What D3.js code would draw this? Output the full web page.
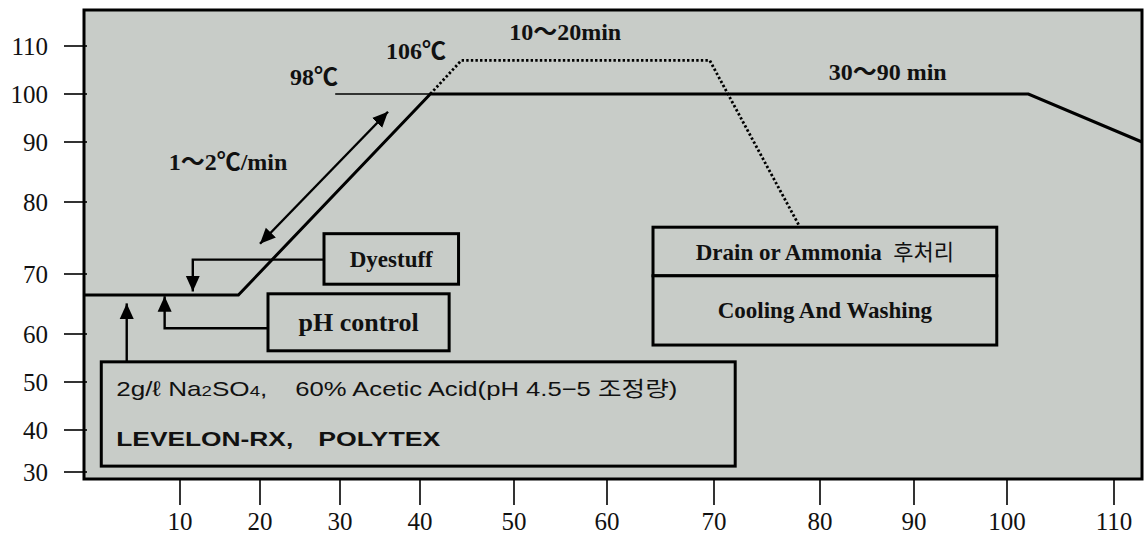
<!DOCTYPE html>
<html>
<head>
<meta charset="utf-8">
<script src="https://cdn.jsdelivr.net/npm/d3@7"></script>
<style>
  body { margin: 0; background: #fff; }
  svg { display: block; }
  .tick-label { font-family: "Liberation Serif", "Times New Roman", serif; font-size: 25px; fill: #111; }
  .note { font-family: "Liberation Serif", "Noto Sans CJK KR", serif; font-weight: bold; fill: #111; }
  .box-text { font-family: "Liberation Sans", "Noto Sans CJK KR", sans-serif; fill: #111; }
</style>
</head>
<body>
<div id="chart"></div>
<script>
// time (min) ticks and temperature (°C) ticks
const xTicks = [10, 20, 30, 40, 50, 60, 70, 80, 90, 100, 110];
const yTicks = [30, 40, 50, 60, 70, 80, 90, 100, 110];

// dyeing profile: [time, temperature]
const mainProfile = [[0, 66.5], [17.3, 66.5], [41.1, 100], [102, 100], [113, 90]];
const overshoot = [[41.1, 100], [44.4, 107], [69.6, 107], [78, 76.8]];
const refLine98 = [[29.4, 100], [41.1, 100]];
const rateArrow = [[20, 74.2], [36, 96.3]];

// dosing arrows (elbow paths ending in an arrowhead)
const dyeArrow = [[28, 72], [11.6, 72], [11.6, 67.1]];
const phArrow = [[21, 60.95], [8.4, 60.95], [8.4, 66.3]];
const saltArrow = [[4.45, 54.2], [4.45, 65.1]];

// annotation boxes: x0, x1, top temp, bottom temp
const dyeBox = { x0: 28, x1: 44.1, t: 75.6, b: 68.3, label: "Dyestuff" };
const phBox = { x0: 21, x1: 43.1, t: 66.7, b: 56.5, label: "pH control" };
const auxBox = { x0: 1.8, x1: 72, t: 54.2, b: 31.4 };
const drainBox = { x0: 64.3, x1: 98.9, t: 76.5, mid: 69.7, b: 57.7 };

// text notes: [time, temp, text]
const notes = [
  [26.75, 101.9, "98℃"],
  [39.5, 107.3, "106℃"],
  [55.5, 111.3, "10～20min"],
  [87.2, 102.9, "30～90 min"],
  [16, 85.3, "1～2℃/min"]
];

const W = 1146, H = 535;
const svg = d3.select('#chart').append('svg')
  .attr('width', W).attr('height', H);

// axis spacing in the original is uneven, so map each tick individually
const x = d3.scaleLinear()
  .domain([0].concat(xTicks, [113]))
  .range([84, 180, 260, 340, 420, 514, 607, 714, 820, 914, 1007, 1114, 1142]);
const y = d3.scaleLinear()
  .domain([29].concat(yTicks, [117.5]))
  .range([479, 472, 430, 382, 334, 274, 202, 142, 94, 46, 10]);

svg.append('defs').append('marker')
  .attr('id', 'head')
  .attr('viewBox', '0 0 10 10')
  .attr('refX', 10).attr('refY', 5)
  .attr('markerWidth', 6.5).attr('markerHeight', 6.5)
  .attr('markerUnits', 'strokeWidth')
  .attr('orient', 'auto-start-reverse')
  .append('path')
  .attr('d', 'M0,0.5 L10,5 L0,9.5 Z')
  .attr('fill', '#000');

// plot frame
svg.append('rect')
  .attr('x', x(0)).attr('y', y(117.5))
  .attr('width', x(113) - x(0)).attr('height', y(29) - y(117.5))
  .attr('fill', '#c8ccc8')
  .attr('stroke', '#000').attr('stroke-width', 3);

// y ticks
const yAxis = svg.append('g');
yTicks.forEach(t => {
  yAxis.append('line')
    .attr('x1', 64).attr('x2', 87)
    .attr('y1', y(t)).attr('y2', y(t))
    .attr('stroke', '#000').attr('stroke-width', 1.6);
  yAxis.append('text')
    .attr('class', 'tick-label')
    .attr('x', 48).attr('y', y(t) + 9)
    .attr('text-anchor', 'end')
    .text(t);
});

// x ticks
const xAxis = svg.append('g');
xTicks.forEach(t => {
  xAxis.append('line')
    .attr('x1', x(t)).attr('x2', x(t))
    .attr('y1', y(29)).attr('y2', 505)
    .attr('stroke', '#000').attr('stroke-width', 1.6);
  xAxis.append('text')
    .attr('class', 'tick-label')
    .attr('x', x(t)).attr('y', 530)
    .attr('text-anchor', 'middle')
    .text(t);
});

const line = d3.line().x(d => x(d[0])).y(d => y(d[1]));

svg.append('path').attr('d', line(refLine98))
  .attr('fill', 'none').attr('stroke', '#000').attr('stroke-width', 1.3);

svg.append('path').attr('d', line(overshoot))
  .attr('fill', 'none').attr('stroke', '#000')
  .attr('stroke-width', 2.8).attr('stroke-dasharray', '2.4,2.2');

svg.append('path').attr('d', line(mainProfile))
  .attr('fill', 'none').attr('stroke', '#000')
  .attr('stroke-width', 3).attr('stroke-linejoin', 'miter');

// rate arrow (both ends)
svg.append('path').attr('d', line(rateArrow))
  .attr('fill', 'none').attr('stroke', '#000').attr('stroke-width', 2.4)
  .attr('marker-start', 'url(#head)').attr('marker-end', 'url(#head)');

[dyeArrow, phArrow, saltArrow].forEach(a => {
  svg.append('path').attr('d', line(a))
    .attr('fill', 'none').attr('stroke', '#000').attr('stroke-width', 2.4)
    .attr('marker-end', 'url(#head)');
});

function box(b, top, bottom) {
  svg.append('rect')
    .attr('x', x(b.x0)).attr('y', y(top))
    .attr('width', x(b.x1) - x(b.x0)).attr('height', y(bottom) - y(top))
    .attr('fill', '#c8ccc8')
    .attr('stroke', '#000').attr('stroke-width', 3);
}

box(dyeBox, dyeBox.t, dyeBox.b);
svg.append('text').attr('class', 'note')
  .attr('x', (x(dyeBox.x0) + x(dyeBox.x1)) / 2)
  .attr('y', (y(dyeBox.t) + y(dyeBox.b)) / 2 + 8)
  .attr('text-anchor', 'middle').attr('font-size', 23)
  .text(dyeBox.label);

box(phBox, phBox.t, phBox.b);
svg.append('text').attr('class', 'note')
  .attr('x', (x(phBox.x0) + x(phBox.x1)) / 2)
  .attr('y', (y(phBox.t) + y(phBox.b)) / 2 + 9)
  .attr('text-anchor', 'middle').attr('font-size', 26)
  .text(phBox.label);

// chemicals box, text set in two runs per line like the original
box(auxBox, auxBox.t, auxBox.b);
const bx = x(auxBox.x0), by = y(auxBox.t);
const l1a = svg.append('text').attr('class', 'box-text')
  .attr('x', bx + 15).attr('y', by + 34).attr('font-size', 21)
  .attr('textLength', 151).attr('lengthAdjust', 'spacingAndGlyphs');
l1a.append('tspan').text('2g/ℓ  Na');
l1a.append('tspan').attr('font-size', 15).text('2');
l1a.append('tspan').text('SO');
l1a.append('tspan').attr('font-size', 15).text('4');
l1a.append('tspan').text(',');
svg.append('text').attr('class', 'box-text')
  .attr('x', bx + 194).attr('y', by + 34).attr('font-size', 21)
  .attr('textLength', 382).attr('lengthAdjust', 'spacingAndGlyphs')
  .text('60% Acetic Acid(pH 4.5−5 조정량)');
svg.append('text').attr('class', 'box-text')
  .attr('x', bx + 15).attr('y', by + 84).attr('font-size', 21).attr('font-weight', 'bold')
  .attr('textLength', 177).attr('lengthAdjust', 'spacingAndGlyphs')
  .text('LEVELON-RX,');
svg.append('text').attr('class', 'box-text')
  .attr('x', bx + 217).attr('y', by + 84).attr('font-size', 21).attr('font-weight', 'bold')
  .attr('textLength', 122).attr('lengthAdjust', 'spacingAndGlyphs')
  .text('POLYTEX');

box(drainBox, drainBox.t, drainBox.mid);
box(drainBox, drainBox.mid, drainBox.b);
const dcx = (x(drainBox.x0) + x(drainBox.x1)) / 2;
const d1 = svg.append('text').attr('class', 'note')
  .attr('x', dcx).attr('y', (y(drainBox.t) + y(drainBox.mid)) / 2 + 8)
  .attr('text-anchor', 'middle').attr('font-size', 23);
d1.append('tspan').text('Drain or Ammonia\u00a0 ');
d1.append('tspan').attr('font-family', '"Noto Sans CJK KR", sans-serif')
  .attr('font-weight', 'normal').attr('font-size', 22).text('후처리');
svg.append('text').attr('class', 'note')
  .attr('x', dcx).attr('y', (y(drainBox.mid) + y(drainBox.b)) / 2 + 8)
  .attr('text-anchor', 'middle').attr('font-size', 23)
  .text('Cooling And Washing');

// process notes
svg.selectAll('.proc-note')
  .data(notes)
  .enter().append('text')
  .attr('class', 'note proc-note')
  .attr('x', d => x(d[0])).attr('y', d => y(d[1]))
  .attr('text-anchor', 'middle').attr('font-size', 24)
  .text(d => d[2]);
</script>
</body>
</html>
